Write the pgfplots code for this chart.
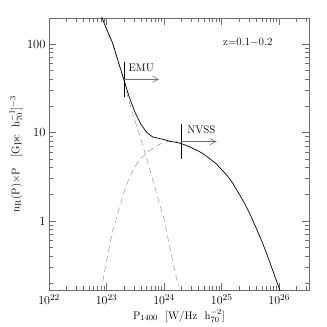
\documentclass[border=0pt]{standalone}
\usepackage{pgfplots}
\pgfplotsset{compat=1.18}
\usetikzlibrary{arrows.meta}

\definecolor{axgray}{RGB}{110,110,110}
\definecolor{dashgray}{RGB}{150,150,150}

% total luminosity function (solid)
\pgfplotstableread{
x y
7.943e22 213.8
1.000e23 147.9
1.259e23 104.7
1.585e23 64.6
1.995e23 39.8
2.512e23 24.5
3.162e23 16.6
3.981e23 12.3
5.012e23 10.0
6.310e23 8.91
7.943e23 8.61
1.000e24 8.32
1.259e24 7.94
1.585e24 7.76
1.995e24 7.50
2.512e24 7.08
3.162e24 6.61
3.981e24 6.17
5.012e24 5.62
6.310e24 5.01
7.943e24 4.47
1.000e25 3.80
1.259e25 3.24
1.585e25 2.63
1.995e25 2.04
2.512e25 1.58
3.162e25 1.17
3.981e25 0.832
5.012e25 0.589
6.310e25 0.398
7.943e25 0.263
1.000e26 0.174
1.047e26 0.158
}\total

% star-forming component (dashed, falling)
\pgfplotstableread{
x y
7.943e22 208.9
1.000e23 147.9
1.259e23 104.7
1.585e23 63.1
1.995e23 38.0
2.512e23 21.4
3.162e23 13.2
3.981e23 8.32
5.012e23 5.01
6.310e23 2.95
7.943e23 1.74
1.000e24 1.05
1.259e24 0.50
1.585e24 0.251
1.750e24 0.185
}\sfg

% AGN component (dashed, rising)
\pgfplotstableread{
x y
8.000e22 0.160
1.000e23 0.355
1.259e23 0.741
1.585e23 1.259
1.995e23 2.09
2.512e23 3.16
3.162e23 4.17
3.981e23 5.13
5.012e23 5.89
6.310e23 6.61
7.943e23 7.24
1.000e24 7.76
1.259e24 8.04
1.585e24 7.94
1.995e24 7.59
}\agn

\begin{document}
\begin{tikzpicture}
\begin{axis}[
  scale only axis, width=260pt, height=272pt,
  xmode=log, ymode=log,
  xmin=1e22, xmax=3.3e26, ymin=0.166, ymax=197,
  axis line style={axgray, line width=0.6pt},
  major tick style={axgray, line width=0.7pt},
  minor tick style={axgray, line width=0.6pt},
  tick align=inside, major tick length=7pt, minor tick length=4pt,
  xtick={1e22,1e23,1e24,1e25,1e26},
  xticklabels={$10^{22}$,$10^{23}$,$10^{24}$,$10^{25}$,$10^{26}$},
  minor xtick={2e22,3e22,4e22,5e22,6e22,7e22,8e22,9e22,
               2e23,3e23,4e23,5e23,6e23,7e23,8e23,9e23,
               2e24,3e24,4e24,5e24,6e24,7e24,8e24,9e24,
               2e25,3e25,4e25,5e25,6e25,7e25,8e25,9e25,
               2e26,3e26},
  ytick={1,10,100}, yticklabels={1,10,100},
  minor ytick={0.2,0.3,0.4,0.5,0.6,0.7,0.8,0.9,
               2,3,4,5,6,7,8,9,20,30,40,50,60,70,80,90},
  tick label style={font=\fontsize{12.5}{14}\selectfont},
  xticklabel style={yshift=-1pt},
  xlabel={P$_{1400}$\ \ [W/Hz\ \ h$^{-2}_{70}$]},
  ylabel={n$_{\rm R}$(P)$\times$P\ \ \ [Gpc\ \ h$^{-1}_{70}$]$^{-3}$},
  label style={font=\fontsize{11}{13}\selectfont},
  xlabel style={yshift=2pt},
  ylabel style={yshift=-2pt},
]
\addplot[dashgray, line width=0.5pt, dash pattern=on 6pt off 4pt] table {\sfg};
\addplot[dashgray, line width=0.5pt, dash pattern=on 6pt off 4pt] table {\agn};
\addplot[black, line width=0.7pt] table {\total};
% survey limits
\addplot[black, line width=0.7pt] coordinates {(2e23,25) (2e23,62)};
\addplot[axgray, line width=0.6pt, -{Straight Barb[length=6pt,width=6pt]}] coordinates {(2e23,40) (8.2e23,40)};
\addplot[black, line width=0.7pt] coordinates {(2e24,5) (2e24,12.6)};
\addplot[axgray, line width=0.6pt, -{Straight Barb[length=6pt,width=6pt]}] coordinates {(2e24,7.9) (8.2e24,7.9)};
\node[anchor=west, font=\fontsize{11}{13}\selectfont] at (axis cs:2.1e23,54) {EMU};
\node[anchor=west, font=\fontsize{11}{13}\selectfont] at (axis cs:2.2e24,10.8) {NVSS};
\node[anchor=east, font=\fontsize{11}{13}\selectfont] at (axis cs:8.8e25,105) {z=0.1$-$0.2};
\end{axis}
\path (-49pt,-37pt) rectangle (278pt,290pt);
\end{tikzpicture}
\end{document}
